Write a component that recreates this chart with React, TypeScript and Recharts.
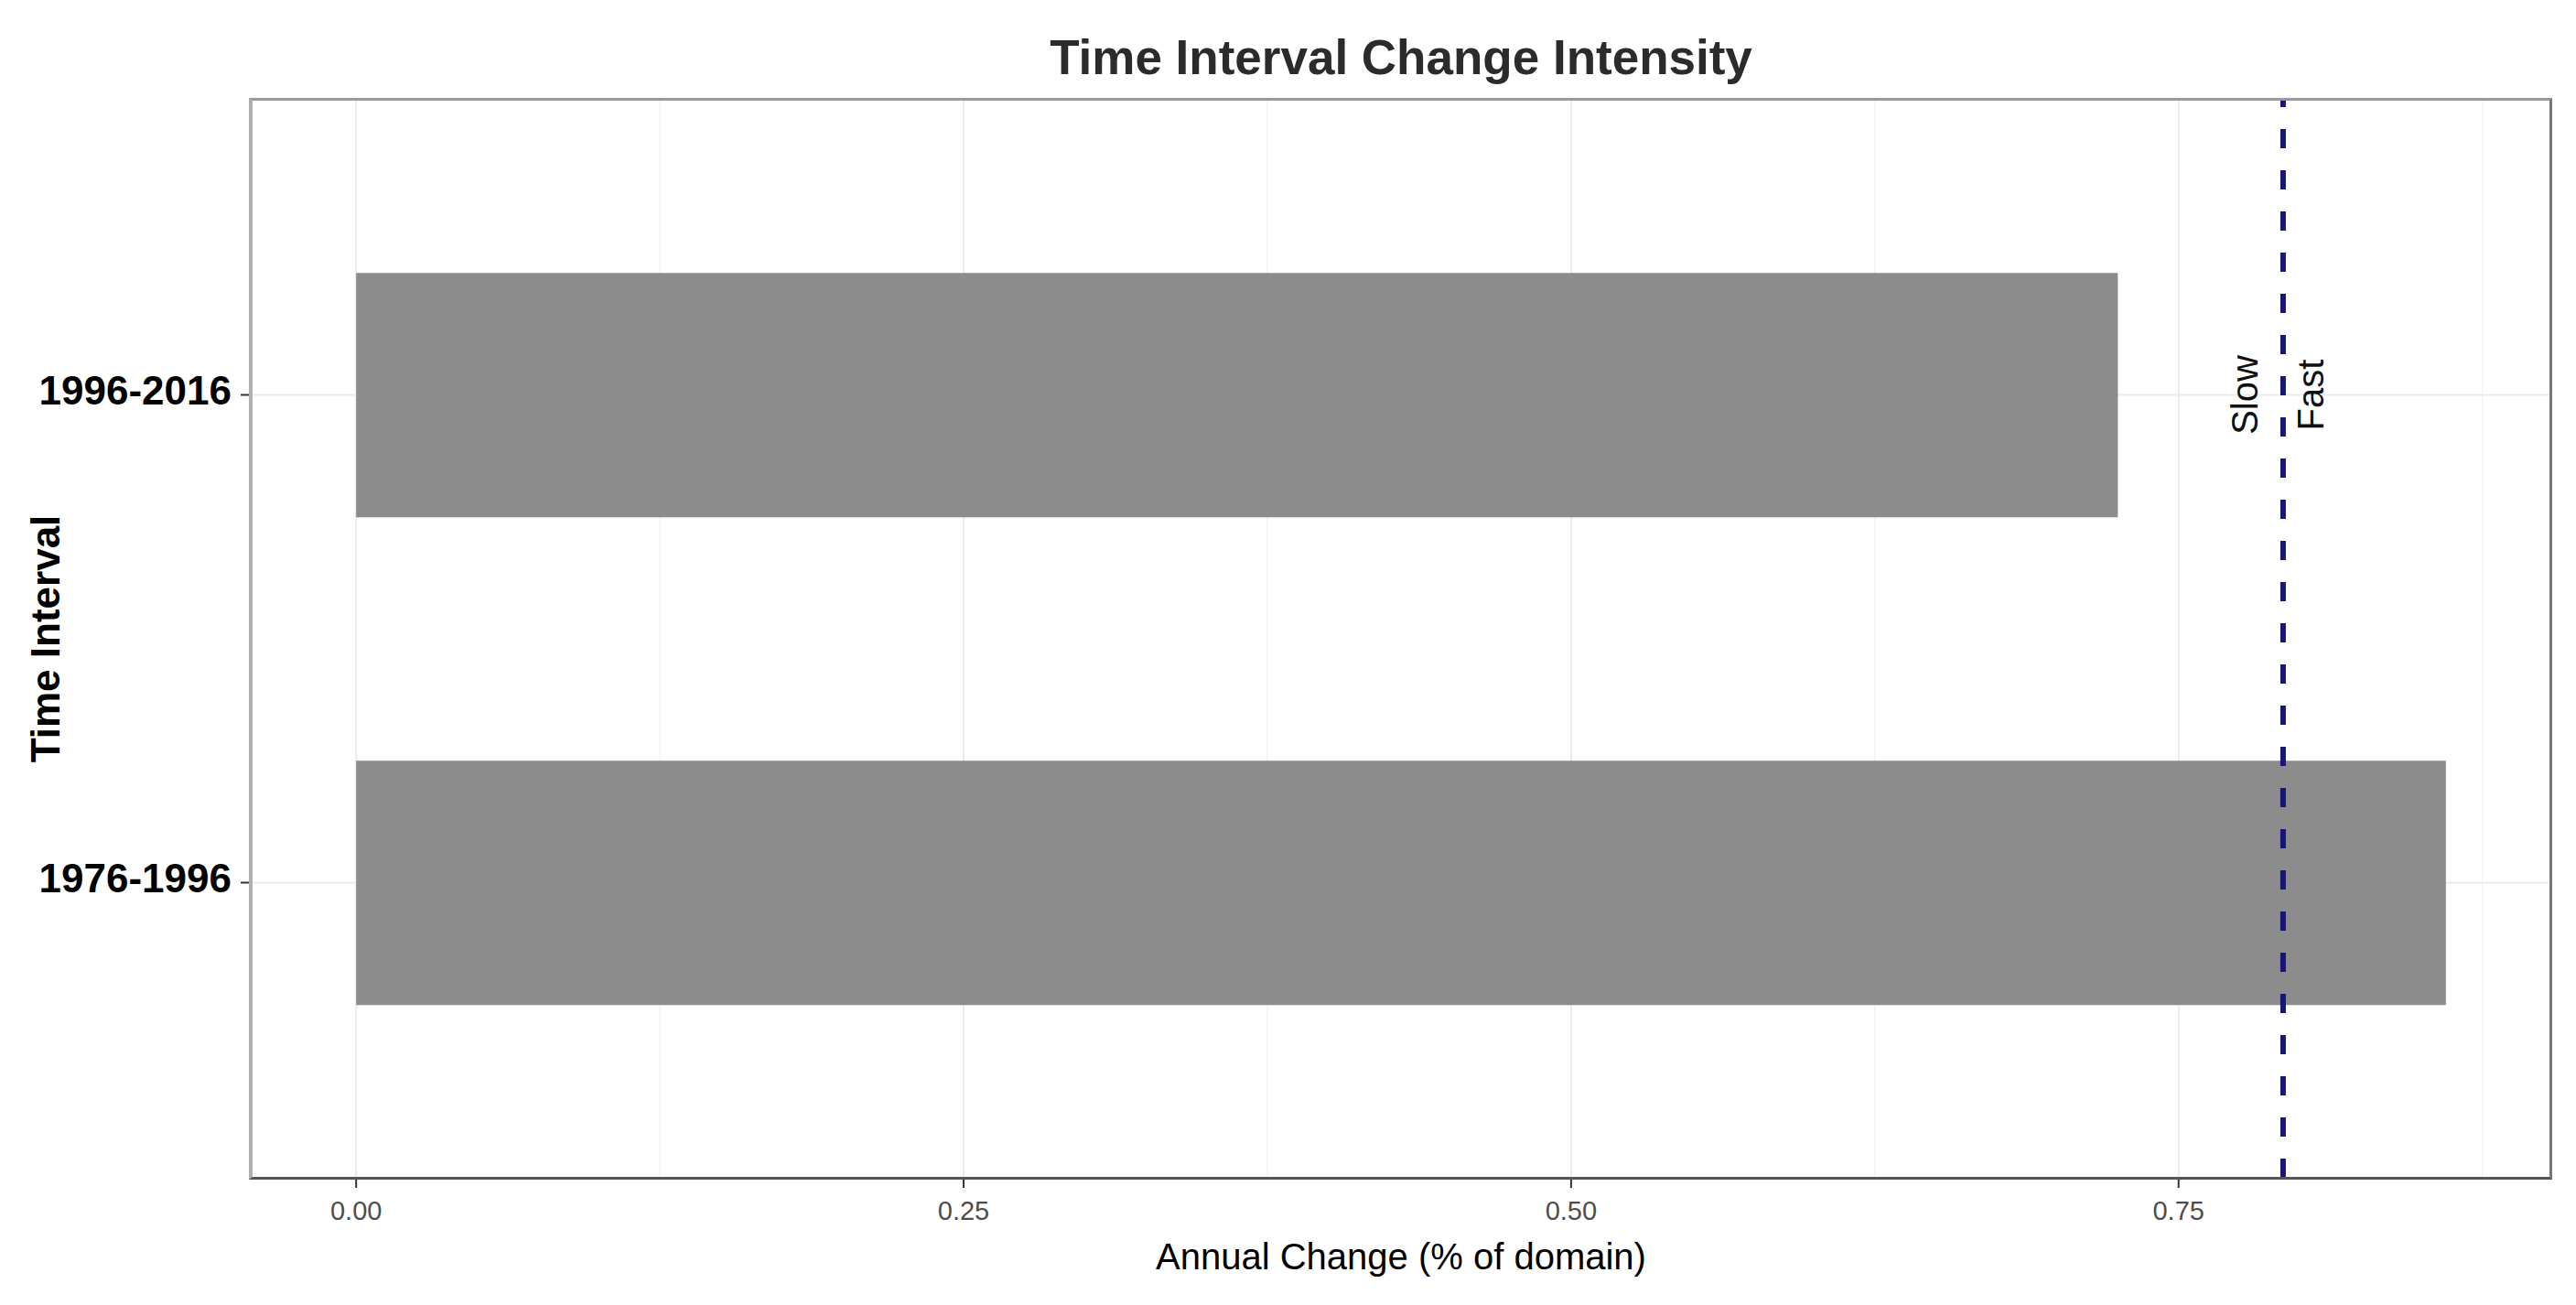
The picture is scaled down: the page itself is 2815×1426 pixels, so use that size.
import React from "react";
import {
  BarChart,
  Bar,
  XAxis,
  YAxis,
  CartesianGrid,
  ReferenceLine,
  ReferenceDot,
} from "recharts";

const categories = ["1996-2016", "1976-1996"];
const annualChange = [0.725, 0.86];
const xTicks = [0, 0.25, 0.5, 0.75];
const minorTicks = [0.125, 0.375, 0.625, 0.875];
const xDomain = [-0.043, 0.903];
const threshold = 0.793;

const data = categories.map((c, i) => ({ interval: c, value: annualChange[i] }));

const FONT = "'Liberation Sans', Arial, sans-serif";
const W = 2815;
const H = 1426;
// plot area edges: left 275, top 109, right 2787, bottom 1287
const M = { top: 109, right: 28, bottom: 0, left: 0 };
const Y_AXIS_W = 275;
const X_AXIS_H = 139;

const YTick = (props: any) => {
  const { x, y, payload } = props;
  return (
    <text x={x} y={y} dy="0.24em" textAnchor="end" fontSize={44} fontWeight="bold" fill="#000" fontFamily={FONT}>
      {payload.value}
    </text>
  );
};

const yTitle = (props: any) => {
  const vb = props.viewBox;
  const cx = vb.x + 65;
  const cy = vb.y + vb.height / 2;
  return (
    <text x={cx} y={cy} transform={`rotate(-90, ${cx}, ${cy})`} textAnchor="middle" fontSize={44} fontWeight="bold" fill="#000" fontFamily={FONT}>
      Time Interval
    </text>
  );
};

const xTitle = (props: any) => {
  const vb = props.viewBox;
  return (
    <text x={vb.x + vb.width / 2} y={vb.y + 100} textAnchor="middle" fontSize={40} fill="#000" fontFamily={FONT}>
      Annual Change (% of domain)
    </text>
  );
};

const SpeedLabels = (props: any) => {
  const { cx, cy } = props;
  const sx = cx - 28;
  const fx = cx + 44;
  return (
    <g>
      <text x={sx} y={cy} transform={`rotate(-90, ${sx}, ${cy})`} textAnchor="middle" fontSize={40} fill="#111" fontFamily={FONT}>
        Slow
      </text>
      <text x={fx} y={cy} transform={`rotate(-90, ${fx}, ${cy})`} textAnchor="middle" fontSize={40} fill="#111" fontFamily={FONT}>
        Fast
      </text>
    </g>
  );
};

export default function App() {
  const plotW = W - M.left - M.right - Y_AXIS_W;
  const plotH = H - M.top - M.bottom - X_AXIS_H;
  return (
    <div style={{ position: "absolute", left: 0, top: 0, width: W, height: H, background: "#fff", fontFamily: FONT }}>
      <div
        style={{
          position: "absolute",
          left: M.left + Y_AXIS_W,
          width: plotW,
          top: 36,
          textAlign: "center",
          fontSize: 53,
          lineHeight: "53px",
          fontWeight: "bold",
          color: "#2b2b2b",
        }}
      >
        Time Interval Change Intensity
      </div>
      <BarChart width={W} height={H} data={data} layout="vertical" margin={M} barCategoryGap="25%">
        <CartesianGrid horizontal={false} verticalValues={minorTicks} stroke="#F4F4F4" strokeWidth={1.5} />
        <CartesianGrid stroke="#EBEBEB" strokeWidth={2} />
        <XAxis
          type="number"
          domain={xDomain}
          ticks={xTicks}
          interval={0}
          tickFormatter={(v: number) => v.toFixed(2)}
          axisLine={false}
          tickLine={{ stroke: "#333", strokeWidth: 2 }}
          tickSize={11}
          tickMargin={14}
          tick={{ fontSize: 29, fill: "#4d4d4d", fontFamily: FONT }}
          height={X_AXIS_H}
          label={{ content: xTitle }}
        />
        <YAxis
          type="category"
          dataKey="interval"
          width={Y_AXIS_W}
          padding={{ top: 56, bottom: 56 }}
          axisLine={false}
          tickLine={{ stroke: "#333", strokeWidth: 2 }}
          tickSize={12}
          tickMargin={10}
          tick={<YTick />}
          label={{ content: yTitle }}
        />
        <Bar dataKey="value" fill="#8C8C8C" isAnimationActive={false} />
        <ReferenceLine x={threshold} stroke="#16167a" strokeWidth={6} strokeDasharray="21 24" />
        <ReferenceDot x={threshold} y={categories[0]} r={1} shape={<SpeedLabels />} />
      </BarChart>
      <div
        style={{
          position: "absolute",
          left: M.left + Y_AXIS_W - 3,
          top: M.top - 2,
          width: plotW + 5,
          height: plotH + 4,
          boxSizing: "border-box",
          borderLeft: "4px solid #b0b0b0",
          borderTop: "3px solid #999",
          borderRight: "3px solid #777",
          borderBottom: "3px solid #555",
          pointerEvents: "none",
        }}
      />
    </div>
  );
}
